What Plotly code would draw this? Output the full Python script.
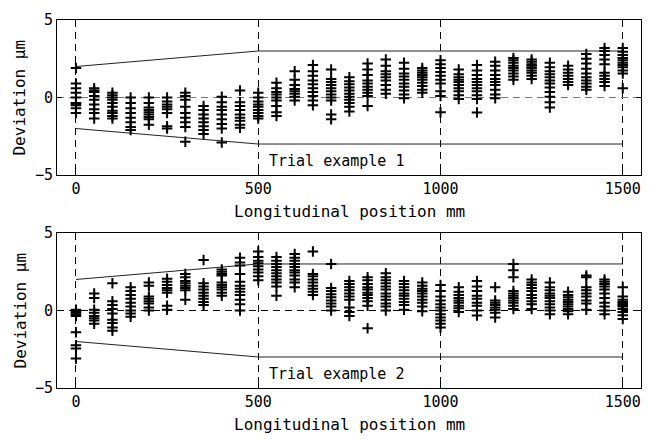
import plotly.graph_objects as go

positions = [0, 50, 100, 150, 200, 250, 300, 350, 400, 450, 500, 550, 600, 650, 700,
             750, 800, 850, 900, 950, 1000, 1050, 1100, 1150, 1200, 1250, 1300, 1350,
             1400, 1450, 1500]

trial1_dev = [
    [1.9, 0.9, 0.6, 0.3, 0.0, -0.35, -0.5, -0.7, -1.0, -0.4],
    [0.6, 0.45, 0.35, 0.1, -0.15, -0.45, -0.75, -1.0, -1.35],
    [0.3, 0.15, 0.0, -0.15, -0.35, -0.6, -0.85, -1.0, -1.2, -1.35],
    [0.0, -0.35, -0.7, -1.0, -1.3, -1.6, -1.9, -2.1],
    [0.0, -0.35, -0.65, -0.8, -0.95, -1.1, -1.25, -1.4, -1.75],
    [0.0, -0.25, -0.45, -0.6, -0.75, -1.0, -1.85, -2.0],
    [0.3, 0.1, -0.15, -0.6, -1.0, -1.3, -1.6, -1.9, -2.85],
    [-0.55, -0.8, -1.1, -1.35, -1.6, -1.85, -2.1, -2.35],
    [0.05, -0.3, -0.6, -0.8, -1.1, -1.4, -1.7, -2.0, -2.9],
    [0.45, -0.3, -0.55, -0.8, -1.1, -1.3, -1.5, -1.75, -1.95],
    [0.3, 0.0, -0.25, -0.45, -0.6, -0.8, -1.0, -1.2, -1.35],
    [0.95, 0.6, 0.35, 0.2, 0.0, -0.2, -0.55, -0.95, -1.2],
    [1.7, 1.15, 0.8, 0.55, 0.4, 0.25, 0.05, -0.2],
    [2.1, 1.7, 1.4, 1.1, 0.85, 0.6, 0.35, 0.1, -0.2, -0.5],
    [1.8, 1.2, 1.0, 0.8, 0.6, 0.4, 0.2, 0.0, -0.2, -1.1, -1.4],
    [1.3, 1.05, 0.85, 0.65, 0.45, 0.25, 0.05, -0.15, -0.35, -0.6, -0.9],
    [2.2, 1.8, 1.45, 1.1, 0.9, 0.7, 0.5, 0.3, 0.1, -0.55],
    [2.45, 2.05, 1.7, 1.5, 1.3, 1.1, 0.8, 0.5, 0.25],
    [2.25, 1.85, 1.55, 1.35, 1.15, 0.9, 0.7, 0.45, 0.2, -0.05],
    [1.9, 1.75, 1.6, 1.45, 1.3, 1.15, 0.95, 0.75, 0.5, 0.3],
    [2.4, 2.15, 1.9, 1.65, 1.4, 1.15, 0.9, 0.4, 0.1, -0.95],
    [1.8, 1.5, 1.3, 1.15, 1.0, 0.8, 0.6, 0.4, 0.15, -0.1],
    [2.1, 1.75, 1.45, 1.2, 1.0, 0.8, 0.6, 0.4, 0.15, -0.1, -0.97],
    [2.3, 2.05, 1.75, 1.45, 1.2, 1.0, 0.8, 0.5, 0.2, -0.05],
    [2.55, 2.4, 2.25, 2.05, 1.9, 1.75, 1.55, 1.35, 1.15],
    [2.45, 2.3, 2.15, 2.05, 1.9, 1.75, 1.6, 1.4, 1.2],
    [2.25, 1.95, 1.7, 1.5, 1.3, 1.1, 0.9, 0.65, 0.35, 0.05, -0.3, -0.65],
    [2.05, 1.8, 1.6, 1.4, 1.2, 1.0, 0.8],
    [2.8, 2.5, 2.2, 1.85, 1.55, 1.3, 1.1, 0.9, 0.7, 0.5],
    [3.2, 3.0, 2.75, 2.45, 2.15, 1.6, 1.4, 1.2, 1.0, 0.75],
    [3.2, 2.95, 2.75, 2.55, 2.4, 2.25, 2.1, 1.95, 1.75, 1.55, 0.6],
]

trial2_dev = [
    [0.05, -0.05, -0.15, -0.25, -0.35, -1.4, -2.25, -2.45, -3.1],
    [1.1, 0.8, 0.05, -0.15, -0.35, -0.5, -0.65, -0.85],
    [1.75, 0.6, 0.35, 0.1, -0.2, -0.6, -0.8, -1.1, -1.3],
    [1.5, 1.25, 1.0, 0.75, 0.5, 0.25, 0.0, -0.2, -0.4],
    [1.8, 1.6, 0.9, 0.75, 0.6, 0.45, 0.2, 0.0],
    [2.05, 1.85, 1.65, 1.45, 1.3, 1.15, 0.3, 0.05],
    [2.35, 2.15, 1.9, 1.75, 1.6, 1.45, 1.3, 0.7],
    [3.25, 1.75, 1.55, 1.35, 1.15, 0.95, 0.75, 0.55, 0.35],
    [2.65, 2.5, 2.35, 2.25, 1.8, 1.65, 1.5, 1.35, 1.15, 0.95],
    [3.4, 3.1, 2.9, 2.35, 1.85, 1.6, 1.4, 1.2, 1.0, 0.7, 0.4, 0.0],
    [3.8, 3.45, 3.2, 3.05, 2.85, 2.65, 2.45, 2.2, 1.95],
    [3.45, 3.2, 3.0, 2.8, 2.6, 2.4, 2.2, 2.0, 1.8, 1.55, 0.95],
    [3.65, 3.4, 3.2, 3.0, 2.8, 2.6, 2.45, 2.25, 2.0, 1.8, 1.5],
    [3.8, 2.35, 2.2, 2.0, 1.8, 1.6, 1.4, 1.2, 1.0],
    [3.0, 1.45, 1.25, 1.05, 0.85, 0.65, 0.45, 0.25, 0.0],
    [1.9, 1.7, 1.5, 1.3, 1.1, 0.9, 0.7, 0.2, -0.1, -0.35],
    [2.15, 1.95, 1.7, 1.5, 1.35, 1.15, 1.0, 0.8, 0.6, 0.3, -1.15],
    [2.4, 2.15, 1.95, 1.75, 1.55, 1.35, 1.1, 0.9, 0.7, 0.45, 0.25, 0.0],
    [1.9, 1.7, 1.5, 1.3, 1.1, 0.95, 0.75, 0.55, 0.35, 0.05],
    [1.8, 1.6, 1.4, 1.25, 1.1, 0.9, 0.7, 0.5, 0.25, -0.05],
    [1.65, 1.25, 0.9, 0.65, 0.4, 0.2, 0.0, -0.25, -0.45, -0.65, -0.85, -1.1],
    [1.5, 1.2, 1.0, 0.8, 0.65, 0.5, 0.3, 0.15, -0.1],
    [1.9, 1.55, 1.25, 0.95, 0.75, 0.5, 0.3, 0.0, -0.33],
    [1.5, 0.65, 0.5, 0.35, 0.2, 0.05, -0.15, -0.45],
    [3.0, 2.6, 2.15, 1.25, 1.1, 0.95, 0.8, 0.65, 0.5, 0.3, 0.1],
    [2.0, 1.8, 1.65, 1.45, 1.25, 1.0, 0.8, 0.6, 0.4, 0.1],
    [1.8, 1.5, 1.3, 1.1, 0.95, 0.8, 0.6, 0.4, 0.2, 0.0, -0.25],
    [1.2, 1.0, 0.85, 0.7, 0.55, 0.4, 0.25, 0.1, -0.05, -0.25],
    [2.25, 2.15, 1.5, 1.3, 1.1, 0.9, 0.65, 0.45, 0.05],
    [2.0, 1.85, 1.7, 1.55, 1.35, 1.1, 0.8, 0.5, 0.25, 0.0, -0.25],
    [1.5, 0.9, 0.7, 0.55, 0.45, 0.35, 0.25, 0.1, -0.1, -0.3, -0.55],
]

limit_x = [0, 500, 1500]
upper_limit = [2, 3, 3]
lower_limit = [-2, -3, -3]

x_ticks = [0, 500, 1000, 1500]
y_ticks = [-5, 0, 5]
y_ticktext = ["\u22125", "0", "5"]

panel_labels = ["Trial example 1", "Trial example 2"]
x_title = "Longitudinal position mm"
y_title = "Deviation \u03bcm"

FONT = "DejaVu Sans Mono"

fig = go.Figure()

datasets = [trial1_dev, trial2_dev]
for i, dev in enumerate(datasets):
    xs, ys = [], []
    for p, vals in zip(positions, dev):
        for v in vals:
            xs.append(p)
            ys.append(v)
    xa = "x" if i == 0 else "x2"
    ya = "y" if i == 0 else "y2"
    for lim in (upper_limit, lower_limit):
        fig.add_trace(go.Scatter(x=limit_x, y=lim, mode="lines",
                                 line=dict(color="#222222", width=1),
                                 xaxis=xa, yaxis=ya, showlegend=False,
                                 hoverinfo="skip"))
    fig.add_trace(go.Scatter(x=xs, y=ys, mode="markers",
                             marker=dict(symbol="cross-thin", size=7.5,
                                         line=dict(color="black", width=2)),
                             xaxis=xa, yaxis=ya, showlegend=False))

ax_common = dict(
    showline=True, linecolor="black", linewidth=1, mirror="ticks",
    ticks="inside", ticklen=5, tickcolor="black",
    showgrid=True, gridcolor="black", gridwidth=1, griddash="7px,5px",
    zeroline=False,
    tickfont=dict(family=FONT, size=15, color="black"),
)

xr = [-52, 1550]
yr = [-5, 5]
fig.update_layout(
    width=653, height=439,
    margin=dict(l=57, r=11, t=13, b=51),
    plot_bgcolor="white", paper_bgcolor="white",
    showlegend=False,
    xaxis=dict(ax_common, range=xr, tickvals=x_ticks, anchor="y",
               domain=[0, 1]),
    yaxis=dict(ax_common, range=yr, tickvals=y_ticks, ticktext=y_ticktext,
               domain=[0.5787, 1.0], anchor="x", gridcolor="#777777"),
    xaxis2=dict(ax_common, range=xr, tickvals=x_ticks, anchor="y2",
                domain=[0, 1]),
    yaxis2=dict(ax_common, range=yr, tickvals=y_ticks, ticktext=y_ticktext,
                domain=[0.0, 0.4213], anchor="x2"),
)

annotations = []
for i, (xd, yd) in enumerate([("x domain", "y domain"), ("x2 domain", "y2 domain")]):
    annotations.append(dict(text=x_title, xref=xd, yref=yd, x=0.5, y=0,
                            yshift=-36, xanchor="center", yanchor="middle",
                            showarrow=False,
                            font=dict(family=FONT, size=16, color="black")))
    annotations.append(dict(text=y_title, xref=xd, yref=yd, x=0, y=0.5,
                            xshift=-37, xanchor="center", yanchor="middle",
                            textangle=-90, showarrow=False,
                            font=dict(family=FONT, size=16, color="black")))
    xa = "x" if i == 0 else "x2"
    ya = "y" if i == 0 else "y2"
    annotations.append(dict(text=panel_labels[i], xref=xa, yref=ya,
                            x=523, y=-4.1, xanchor="left", yanchor="middle",
                            showarrow=False,
                            font=dict(family=FONT, size=15, color="black")))
fig.update_layout(annotations=annotations)

fig.write_html("out.html")
